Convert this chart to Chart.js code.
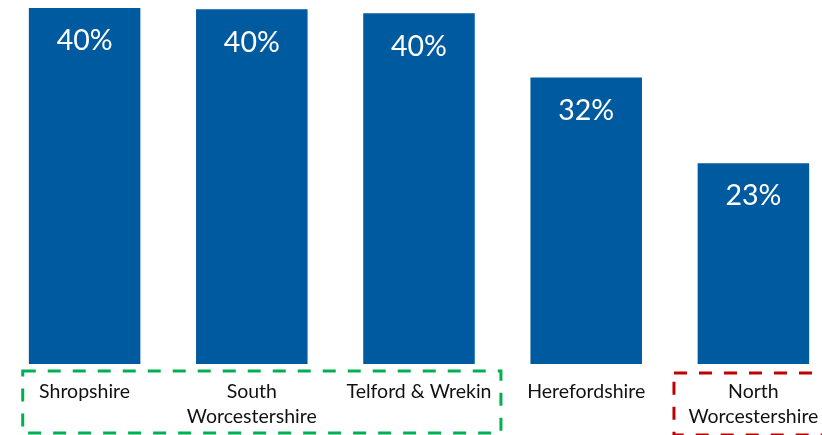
<!DOCTYPE html>
<html>
<head>
<meta charset="utf-8">
<script src="https://cdn.jsdelivr.net/npm/chart.js@4"></script>
<style>
  html, body { margin:0; padding:0; background:#fff; overflow:hidden; }
  #wrap { width:822px; height:435px; overflow:hidden; }
</style>
</head>
<body>
<div id="wrap"><canvas id="chart" width="840" height="435"></canvas></div>
<script>
// data
const areas = [["Shropshire"], ["South", "Worcestershire"], ["Telford & Wrekin"], ["Herefordshire"], ["North", "Worcestershire"]];
const shares = [40.0, 39.85, 39.4, 32.2, 22.55];
const shareLabels = ["40%", "40%", "40%", "32%", "23%"];

// groups marked with dashed boxes (first index, last index, colour)
const groups = [
  { from:0, to:2, color:"#00B050" },
  { from:4, to:4, color:"#C00000" }
];

const barBlue = "#005AA0";

// labels inside the bars + category names + dashed boxes
const labelPlugin = {
  id:"labels",
  afterDatasetsDraw(chart){
    const ctx = chart.ctx;
    const meta = chart.getDatasetMeta(0);
    const x = chart.scales.x;
    const bottom = chart.chartArea.bottom;
    ctx.save();
    ctx.textAlign = "center";
    ctx.textBaseline = "middle";
    ctx.fillStyle = "#fff";
    ctx.font = "28.5px Lato";
    meta.data.forEach((bar, i) => {
      ctx.fillText(shareLabels[i], bar.x, bar.y + 33);
    });

    ctx.fillStyle = "#111";
    ctx.font = "19.5px Lato";
    areas.forEach((lines, i) => {
      const cx = x.getPixelForValue(i);
      lines.forEach((t, j) => ctx.fillText(t, cx, bottom + 28 + j * 25));
    });

    // dashed boxes
    const step = x.getPixelForValue(1) - x.getPixelForValue(0);
    ctx.lineWidth = 3;
    ctx.setLineDash([13, 12]);
    groups.forEach(g => {
      const l = g.from === 0 ? x.getPixelForValue(g.from) - step * 0.37 : x.getPixelForValue(g.from) - step * 0.475;
      const r = x.getPixelForValue(g.to) + step * 0.49;
      const t = bottom + (g.from === 0 ? 7 : 9);
      ctx.strokeStyle = g.color;
      ctx.strokeRect(l, t, r - l, 62);
    });
    ctx.restore();
  }
};

new Chart(document.getElementById("chart"), {
  type:"bar",
  data:{
    labels: areas,
    datasets:[{
      data: shares,
      backgroundColor: barBlue,
      borderWidth: 0,
      barPercentage: 0.667,
      categoryPercentage: 1.0
    }]
  },
  options:{
    responsive:false,
    animation:false,
    layout:{ padding:{ left:1, right:3, top:0, bottom:71 } },
    plugins:{ legend:{ display:false }, tooltip:{ enabled:false } },
    scales:{
      x:{ display:false },
      y:{ display:false, min:0, max:40.9 }
    }
  },
  plugins:[labelPlugin]
});
</script>
</body>
</html>
